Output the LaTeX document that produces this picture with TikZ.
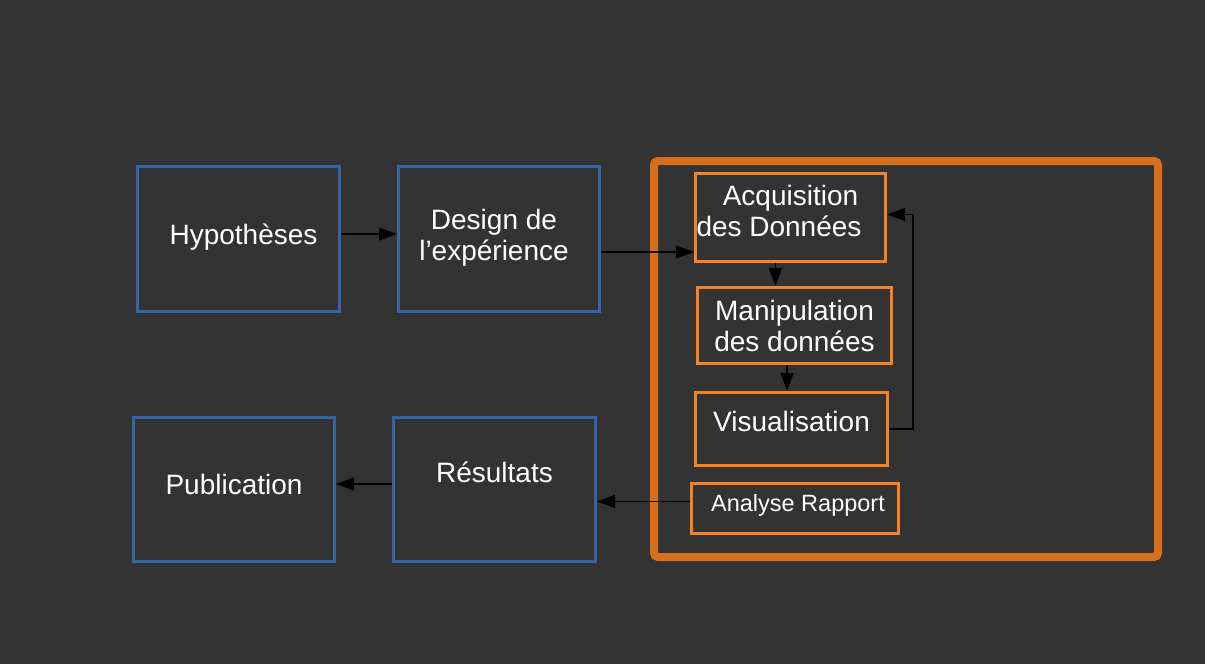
\documentclass[tikz,border=0pt]{standalone}
\usepackage{fontspec}
\setmainfont{Liberation Sans}
\usetikzlibrary{calc,arrows.meta}

\definecolor{bgdark}{RGB}{51,51,51}
\definecolor{boxblue}{RGB}{53,101,165}
\definecolor{frameorange}{RGB}{214,112,28}
\definecolor{boxorange}{RGB}{245,130,35}

\begin{document}
\begin{tikzpicture}[x=1pt, y=-1pt, >={Triangle[length=18pt,width=13pt]},
  font=\fontsize{28}{31}\selectfont]
\def \sp {1.5pt}
  \tikzstyle{block} = [draw, color=boxblue, rectangle, line width=3pt,
                       align=center, text=white, inner sep=0]
  \tikzstyle{step box} = [draw, color=boxorange, rectangle, line width=3pt,
                       align=center, text=white, inner sep=0]
  \tikzstyle{frame} = [draw, color=frameorange, rectangle, rounded corners=4pt, line width=8pt]
  \tikzstyle{lines} = [black,line width=\sp,->]
  \tikzstyle{lines2} = [black,line width=\sp,-]

\fill[bgdark] (0,0) rectangle (1205,664);
\useasboundingbox (0,0) rectangle (1205,664);

%%%%%%%%%%%%%%%%%%%%%%%%%%%%%%%%%%%%%%%%%%%%%%%%%%%%%%%%%%%%%%%%%%%%%%%%%%%%%%%

\coordinate (hyp_pose) at (238.5, 239);
\coordinate (design_pose) at (499, 239);
\coordinate (pub_pose) at (234, 489.5);
\coordinate (res_pose) at (494.5, 489.5);
\coordinate (frame_pose) at (906, 359);
\coordinate (acq_pose) at (790.5, 217.5);
\coordinate (manip_pose) at (794.5, 325.5);
\coordinate (vis_pose) at (791.5, 429);
\coordinate (ana_pose) at (795, 508.5);

%%%%%%%%%%%%%%%%%%%%%%%%%%%%%%%%%%%%%%%%%%%%%%%%%%%%%%%%%%%%%%%%%%%%%%%%%%%%%%%

\node[frame, minimum width=504pt, minimum height=396pt] (frame) at (frame_pose) {};

\node[block, minimum width=202pt, minimum height=145pt,
      label={[text=white, xshift=5pt, yshift=2pt]center:Hypothèses}] (hyp) at (hyp_pose) {};
\node[block, minimum width=201pt, minimum height=145pt,
      label={[text=white, align=center, xshift=-5pt, yshift=1pt]center:Design de\\l’expérience}] (design) at (design_pose) {};
\node[block, minimum width=201pt, minimum height=144pt,
      label={[text=white, yshift=5pt]center:Publication}] (pub) at (pub_pose) {};
\node[block, minimum width=202pt, minimum height=144pt,
      label={[text=white, yshift=17pt]center:Résultats}] (res) at (res_pose) {};

\node[step box, minimum width=190pt, minimum height=88pt,
      label={[text=white, align=center, yshift=7pt]center:Acquisition\\des Données\hspace*{23pt}}] (acq) at (acq_pose) {};
\node[step box, minimum width=194pt, minimum height=76pt] (manip) at (manip_pose) {Manipulation \\ des données};
\node[step box, minimum width=192pt, minimum height=73pt,
      label={[text=white, yshift=8pt]center:Visualisation}] (vis) at (vis_pose) {};
\node[step box, minimum width=207pt, minimum height=50pt,
      label={[text=white, font=\fontsize{23.5}{26}\selectfont, xshift=3pt, yshift=3pt]center:Analyse Rapport}] (ana) at (ana_pose) {};

%%%%%%%%%%%%%%%%%%%%%%%%%%%%%%%%%%%%%%%%%%%%%%%%%%%%%%%%%%%%%%%%%%%%%%%%%%%%%%%

\draw[lines] ([yshift=5pt]hyp.east) -- ([yshift=5pt]hyp.east -| design.west);
\draw[lines] ([yshift=-13pt]design.east) -- ([yshift=-13pt]design.east -| acq.west);
\draw[lines] ([xshift=-15pt]acq.south) -- ([xshift=-15pt]acq.south |- manip.north);
\draw[lines] ([xshift=-7.5pt]manip.south) -- ([xshift=-7.5pt]manip.south |- vis.north);
\draw[lines] (vis.east) -- ++ (24,0) |- ([yshift=3pt]acq.east);

\draw[lines] ([yshift=7pt]ana.west) -- ([yshift=7pt]ana.west -| res.east);
\draw[lines] ([yshift=5.5pt]res.west) -- ([yshift=5.5pt]res.west -| pub.east);

\end{tikzpicture}
\end{document}
